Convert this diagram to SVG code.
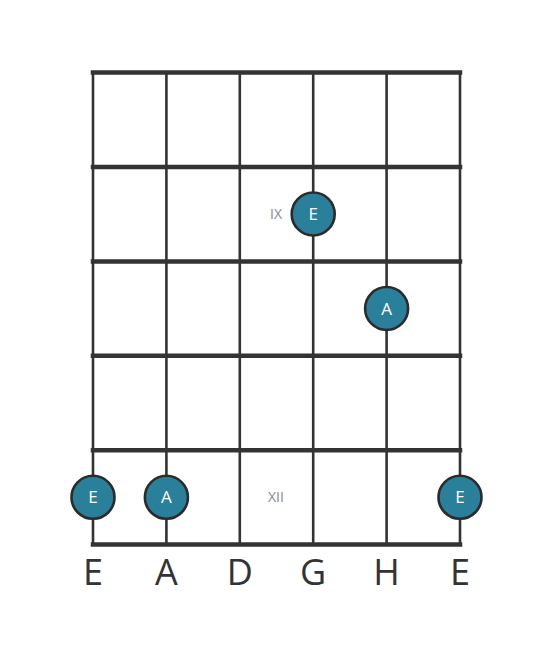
<svg xmlns="http://www.w3.org/2000/svg" width="553" height="656" viewBox="0 0 553 656">
<style>
.fret{stroke:#333;stroke-width:4.5;stroke-linecap:square}
.str{stroke:#333;stroke-width:2.6}
.dot circle{fill:#2a7f9b;stroke:#2b2b2b;stroke-width:2.6}
.dot text{fill:#fff;font-family:"Open Sans","Liberation Sans",sans-serif;font-size:17px;text-anchor:middle}
.pos{fill:#888;font-family:"Open Sans","Liberation Sans",sans-serif;font-size:14px;text-anchor:middle}
.name{fill:#333;font-family:"Open Sans","Liberation Sans",sans-serif;font-size:36px;text-anchor:middle}
</style>
<rect width="553" height="656" fill="#fff"/>
<g id="connectors">
<line class="str" x1="93" y1="72.5" x2="93" y2="544.5"/>
<line class="str" x1="166.4" y1="72.5" x2="166.4" y2="544.5"/>
<line class="str" x1="239.8" y1="72.5" x2="239.8" y2="544.5"/>
<line class="str" x1="313.2" y1="72.5" x2="313.2" y2="544.5"/>
<line class="str" x1="386.6" y1="72.5" x2="386.6" y2="544.5"/>
<line class="str" x1="460" y1="72.5" x2="460" y2="544.5"/>
<line class="fret" x1="93" y1="72.5" x2="460" y2="72.5"/>
<line class="fret" x1="93" y1="167" x2="460" y2="167"/>
<line class="fret" x1="93" y1="261.4" x2="460" y2="261.4"/>
<line class="fret" x1="93" y1="355.8" x2="460" y2="355.8"/>
<line class="fret" x1="93" y1="450.2" x2="460" y2="450.2"/>
<line class="fret" x1="93" y1="544.6" x2="460" y2="544.6"/>
</g>
<text class="pos" x="276" y="219">IX</text>
<text class="pos" x="276" y="502">XII</text>
<g id="n1" class="dot"><circle cx="313.2" cy="214" r="21.5"/><text x="313.2" y="220">E</text></g>
<g id="n2" class="dot"><circle cx="386.6" cy="308.5" r="21.5"/><text x="386.6" y="314.5">A</text></g>
<g id="n3" class="dot"><circle cx="93" cy="497.3" r="21.5"/><text x="93" y="503.3">E</text></g>
<g id="n4" class="dot"><circle cx="166.4" cy="497.3" r="21.5"/><text x="166.4" y="503.3">A</text></g>
<g id="n5" class="dot"><circle cx="460" cy="497.3" r="21.5"/><text x="460" y="503.3">E</text></g>
<g id="labels">
<text class="name" x="93" y="585">E</text>
<text class="name" x="166.4" y="585">A</text>
<text class="name" x="239.8" y="585">D</text>
<text class="name" x="313.2" y="585">G</text>
<text class="name" x="386.6" y="585">H</text>
<text class="name" x="460" y="585">E</text>
</g>
</svg>
